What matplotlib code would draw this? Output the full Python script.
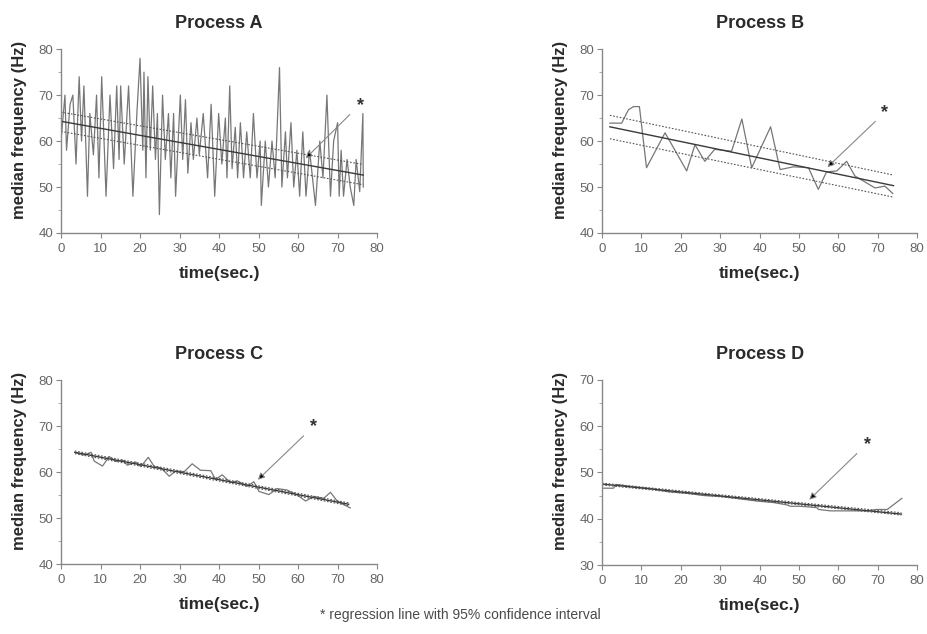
import matplotlib
matplotlib.use("Agg")
import matplotlib.pyplot as plt
from matplotlib.ticker import MultipleLocator

plt.rcParams["font.family"] = ["Liberation Sans", "DejaVu Sans"]

# ---- Process A : raw median frequency trace (time s, Hz) ----
a_time = [0, 1.0, 1.4, 2.3, 3.0, 3.8, 4.6, 5.2, 5.8, 6.7, 7.3, 8.2, 9.0, 9.6, 10.3,
          11.4, 12.4, 13.3, 14.1, 14.7, 15.1, 16.0, 17.1, 18.2, 19.2, 20.0, 20.7,
          21.0, 21.5, 22.0, 22.6, 23.2, 23.9, 24.4, 24.9, 25.7, 26.4, 27.2, 27.8,
          28.5, 29.0, 30.2, 30.8, 31.5, 32.1, 32.9, 33.5, 34.4, 35.0, 36.0, 37.1,
          38.0, 38.9, 39.9, 40.7, 41.6, 42.0, 42.7, 43.3, 44.1, 44.7, 45.4, 46.2,
          47.0, 47.9, 48.7, 49.6, 50.4, 50.7, 51.7, 52.5, 53.4, 54.2, 55.3, 55.9,
          56.8, 57.3, 58.2, 58.9, 59.7, 60.4, 61.2, 62.0, 62.9, 64.4, 65.5, 66.3,
          67.3, 68.2, 69.0, 70.0, 70.4, 70.9, 71.5, 72.4, 73.2, 74.1, 74.7, 75.6,
          76.4, 76.5]
a_freq = [60, 70, 58, 68, 70, 55, 74, 60, 72, 48, 66, 57, 70, 52, 74,
          48, 70, 54, 72, 56, 72, 55, 72, 48, 66, 78, 58,
          75, 52, 74, 58, 72, 56, 66, 44, 70, 56, 66, 52,
          66, 48, 70, 56, 69, 53, 64, 56, 65, 57, 66, 52,
          68, 48, 66, 55, 65, 52, 72, 54, 63, 52, 64, 52,
          62, 52, 66, 52, 60, 46, 60, 50, 60, 52, 76, 50,
          62, 52, 64, 50, 58, 48, 62, 48, 58, 46, 60, 52,
          70, 48, 60, 64, 48, 58, 48, 56, 50, 46, 56, 49,
          66, 50]

# ---- Process B ----
b_time = [2.0, 5.0, 6.7, 8.0, 9.5, 11.3, 16.0, 21.5, 23.6, 26.1, 28.6, 32.9,
          35.5, 38.0, 42.8, 45.2, 48.6, 52.4, 54.9, 57.0, 59.6, 62.1, 64.2,
          69.3, 71.8, 73.8]
b_freq = [63.9, 63.9, 66.8, 67.5, 67.5, 54.2, 61.8, 53.5, 59.2, 55.6, 58.2, 57.8,
          64.8, 54.2, 63.1, 53.8, 54.4, 54.2, 49.5, 53.3, 53.5, 55.6, 52.4,
          49.8, 50.2, 48.6]

# ---- Process C ----
c_time = [3.8, 5.9, 7.6, 8.4, 10.5, 12.2, 13.9, 15.6, 16.8, 18.9, 20.2, 22.1,
          23.6, 25.3, 27.4, 29.0, 31.2, 33.2, 35.3, 37.9, 39.1, 40.8, 42.9,
          44.6, 47.1, 48.8, 50.1, 52.6, 54.7, 57.2, 59.8, 61.9, 64.0, 66.5,
          68.2, 69.9, 71.6, 73.2]
c_freq = [64.2, 63.7, 64.3, 62.4, 61.3, 63.4, 62.3, 62.6, 61.5, 62.2, 61.2, 63.2,
          61.2, 60.9, 59.1, 60.2, 60.1, 61.8, 60.4, 60.3, 58.4, 59.4, 57.7,
          58.1, 56.9, 57.9, 55.8, 55.1, 56.4, 56.1, 55.0, 53.7, 54.7, 54.3,
          55.6, 53.7, 52.9, 52.2]

# ---- Process D ----
d_time = [0.3, 2.9, 3.7, 8.0, 12.5, 17.0, 21.5, 26.0, 30.5, 35.0, 39.5, 43.5,
          46.9, 47.8, 50.3, 54.5, 55.0, 58.0, 63.1, 67.3, 69.8, 72.4, 76.1]
d_freq = [46.6, 46.6, 47.4, 46.9, 46.5, 45.8, 45.5, 45.0, 44.8, 44.3, 43.8, 43.5,
          43.0, 42.7, 42.7, 42.4, 42.0, 41.7, 41.7, 41.7, 42.0, 42.0, 44.4]

# regression line and 95% CI end values: [x_start, x_end] and y at those x
reg_x = {"A": [0, 76.5], "B": [2, 74], "C": [3.5, 72.8], "D": [0, 76]}
reg_y = {"A": [64.3, 52.6], "B": [63.1, 50.3], "C": [64.3, 53.0], "D": [47.5, 41.0]}
ci_hi = {"A": [66.3, 54.9], "B": [65.6, 52.6], "C": [64.6, 53.3], "D": [47.7, 41.3]}
ci_lo = {"A": [62.1, 50.5], "B": [60.5, 47.8], "C": [64.0, 52.7], "D": [47.3, 40.8]}

# annotation: star position, arrow start, arrow tip
star_xy = {"A": (75.8, 67.7), "B": (71.7, 66.2), "C": (64.0, 69.9), "D": (67.5, 56.1)}
arrow_from = {"A": (73.6, 66.2), "B": (69.9, 64.7), "C": (61.9, 68.3), "D": (65.2, 54.5)}
arrow_to = {"A": (61.4, 55.8), "B": (56.7, 53.9), "C": (49.3, 57.9), "D": (52.1, 43.7)}

ylims = {"A": (40, 80), "B": (40, 80), "C": (40, 80), "D": (30, 70)}

series = {"A": (a_time, a_freq), "B": (b_time, b_freq),
          "C": (c_time, c_freq), "D": (d_time, d_freq)}

# axes rectangles in figure fraction
positions = {
    "A": [0.0658, 0.6325, 0.341, 0.290],
    "B": [0.6494, 0.6325, 0.340, 0.290],
    "C": [0.0658, 0.1104, 0.341, 0.290],
    "D": [0.6494, 0.1088, 0.340, 0.292],
}

fig = plt.figure(figsize=(9.27, 6.34), dpi=100)

for key in ["A", "B", "C", "D"]:
    ax = fig.add_axes(positions[key])
    t, f = series[key]
    ax.plot(t, f, color="#777777", lw=0.9)
    ax.plot(reg_x[key], reg_y[key], color="#3a3a3a", lw=1.0)
    ax.plot(reg_x[key], ci_hi[key], color="#555555", lw=0.8, ls=(0, (1.5, 1.5)))
    ax.plot(reg_x[key], ci_lo[key], color="#555555", lw=0.8, ls=(0, (1.5, 1.5)))

    ax.annotate("", xy=arrow_to[key], xytext=arrow_from[key],
                arrowprops=dict(arrowstyle="-|>", lw=0.8, ec="#888888", fc="black",
                                mutation_scale=10))
    ax.text(*star_xy[key], "*", ha="center", va="center", fontsize=13,
            fontweight="bold", color="#333333")

    ax.set_xlim(0, 80)
    ax.set_ylim(*ylims[key])
    ax.xaxis.set_major_locator(MultipleLocator(10))
    ax.yaxis.set_major_locator(MultipleLocator(10))
    ax.yaxis.set_minor_locator(MultipleLocator(5))
    for side in ["top", "right"]:
        ax.spines[side].set_visible(False)
    for side in ["left", "bottom"]:
        ax.spines[side].set_color("#888888")
        ax.spines[side].set_linewidth(1.0)
    ax.tick_params(which="major", length=3.5, width=0.8, color="#888888",
                   labelsize=9.5, labelcolor="#666666")
    ax.tick_params(axis="x", which="major", pad=3.5)
    ax.tick_params(axis="y", which="major", pad=2)
    ax.tick_params(which="minor", length=2, width=0.6, color="#999999")

    ax.set_title(f"Process {key}", fontsize=13, fontweight="bold", color="#2a2a2a", pad=15)
    ax.set_xlabel("time(sec.)", fontsize=12.5, fontweight="bold", color="#2a2a2a", labelpad=8)
    ax.set_ylabel("median frequency (Hz)", fontsize=12, fontweight="bold",
                  color="#2a2a2a", labelpad=8, y=0.56)

fig.text(0.497, 0.030, "* regression line with 95% confidence interval",
         ha="center", va="center", fontsize=10, color="#4a4a4a")

fig.savefig("out.png", dpi=100)
